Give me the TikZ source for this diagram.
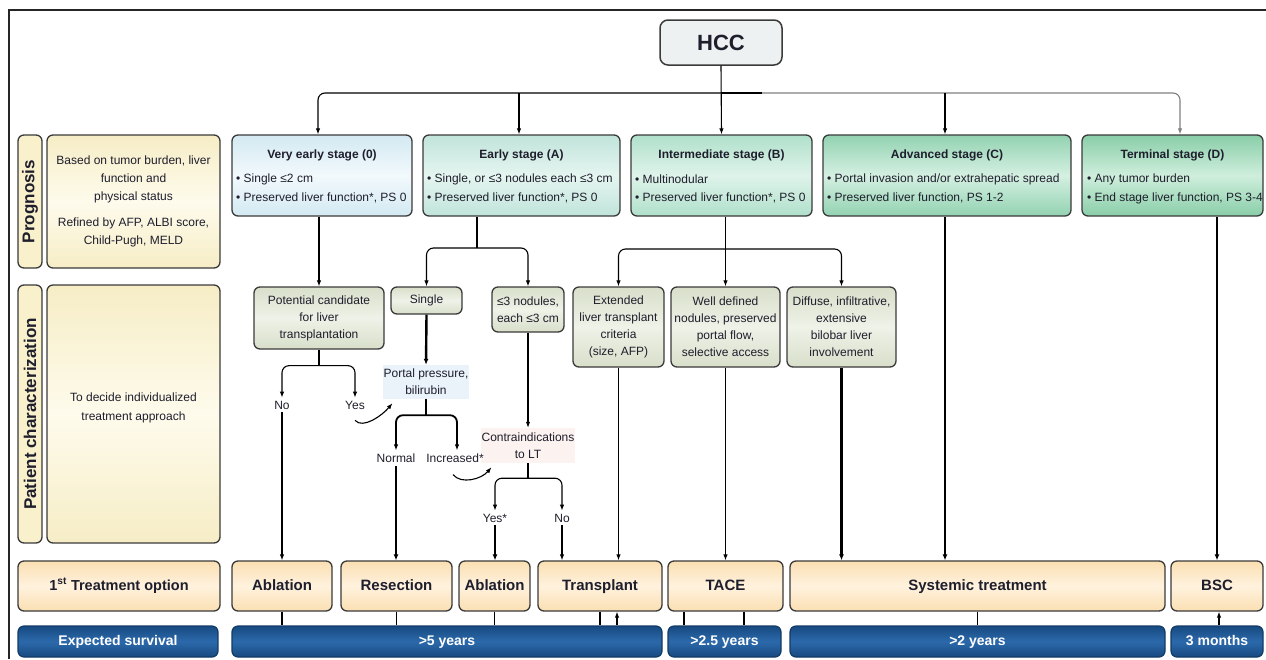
\documentclass[tikz,border=0pt]{standalone}
\usepackage{fontspec}
\setmainfont{Liberation Sans}
\usetikzlibrary{arrows.meta,calc}
\definecolor{ink}{HTML}{1E1E2C}
\definecolor{bord}{HTML}{3A3A3A}
\definecolor{creamE}{HTML}{F6EDC6}
\definecolor{creamC}{HTML}{FEFBEC}
\definecolor{vlabC}{HTML}{F9F1CC}
\definecolor{peachE}{HTML}{FADFB2}
\definecolor{peachC}{HTML}{FFF2DE}
\definecolor{blueE}{HTML}{174A80}
\definecolor{blueC}{HTML}{2C69AB}
\definecolor{grnE}{HTML}{D8DFCA}
\definecolor{grnC}{HTML}{EFF2E8}
\definecolor{hccF}{HTML}{EEF1F1}
\definecolor{ppF}{HTML}{EAF3FA}
\definecolor{ctF}{HTML}{FCF2EF}
\definecolor{s0E}{HTML}{D3E9F2}\definecolor{s0C}{HTML}{F2F9FC}
\definecolor{sAE}{HTML}{C0E4DA}\definecolor{sAC}{HTML}{E5F5F0}
\definecolor{sBE}{HTML}{B0E0CB}\definecolor{sBC}{HTML}{DFF3EA}
\definecolor{sCE}{HTML}{92D2B1}\definecolor{sCC}{HTML}{D5F0E2}
\definecolor{sDE}{HTML}{89CEA8}\definecolor{sDC}{HTML}{CFEEDC}
\begin{document}
\begin{tikzpicture}[x=1pt,y=-1pt,
  every node/.style={text=ink},
  box/.style={draw=bord, line width=1.3pt, rounded corners=6pt, align=center, inner sep=1pt},
  sm/.style={font=\fontsize{12}{17}\selectfont},
  ttl/.style={inner sep=0pt, font=\fontsize{12}{14}\selectfont\bfseries},
  bul/.style={anchor=west, inner sep=0pt, font=\fontsize{12}{14}\selectfont},
  stage/.style={box, minimum height=81pt},
  midbox/.style={box, sm, top color=grnE, bottom color=grnE, middle color=grnC},
  treat/.style={box, minimum height=50pt, text height=11pt, text depth=3pt, top color=peachE, bottom color=peachE, middle color=peachC, font=\fontsize{15}{17}\selectfont\bfseries},
  surv/.style={draw=blueE!80!black, line width=1.2pt, rounded corners=6pt, minimum height=31pt, text height=10pt, text depth=3pt, top color=blueE, bottom color=blueE, middle color=blueC, text=white, font=\fontsize{14}{16}\selectfont\bfseries},
  vlab/.style={box, fill=vlabC, minimum width=24pt},
  info/.style={box, sm, top color=creamE, bottom color=creamE, middle color=creamC, minimum width=173pt, font=\fontsize{12}{18}\selectfont},
  lab/.style={sm, inner sep=3pt},
  ln/.style={draw=black, line width=1.1pt},
  arr/.style={ln, -{Latex[length=6pt,width=4.5pt]}},
  tln/.style={draw=black, line width=2.4pt},
  tarr/.style={tln, -{Latex[length=6pt,width=5pt]}},
  rc/.style={rounded corners=7pt}
]
\useasboundingbox (0,0) rectangle (1266,659);
% frame
\draw[line width=1.8pt, draw=black!85] (8,10) -- (1266,10);
\draw[line width=1.8pt, draw=black!85] (9,10) -- (9,659);

% HCC
\node[box, line width=1.5pt, fill=hccF, rounded corners=8pt, minimum width=122pt, minimum height=45pt, font=\fontsize{22}{24}\selectfont\bfseries] (hcc) at (721,42.5) {HCC};

% left column
\node[vlab, minimum height=133pt] (progL) at (30,201.5) {};
\node[rotate=90, inner sep=0pt, font=\fontsize{17}{19}\selectfont\bfseries] (progLt) at (progL) {Prognosis};
\node[info, minimum height=133pt] (progT) at (133.5,201.5) {Based on tumor burden, liver\\function and\\physical status\\[8pt]Refined by AFP, ALBI score,\\Child-Pugh, MELD};
\node[vlab, minimum height=258pt] (patL) at (30,414) {};
\node[rotate=90, inner sep=0pt, font=\fontsize{17}{19}\selectfont\bfseries] (patLt) at (patL) {Patient characterization};
\node[info, minimum height=258pt] (patT) at (133.5,414) {};
\node[sm, align=center, font=\fontsize{12}{19}\selectfont] (patTt) at (133.5,408) {To decide individualized\\treatment approach};

% stage boxes
\node[stage, top color=s0E, bottom color=s0E, middle color=s0C, minimum width=180pt] (s0) at (322,175.5) {};
\node[ttl] (s0h) at (322,155) {Very early stage (0)};
\node[bul] (s0a) at (236,179) {• Single ≤2 cm};
\node[bul] (s0b) at (236,198) {• Preserved liver function*, PS 0};

\node[stage, top color=sAE, bottom color=sAE, middle color=sAC, minimum width=197pt] (sA) at (521.5,175.5) {};
\node[ttl] (sAh) at (521.5,155) {Early stage (A)};
\node[bul] (sAa) at (427,179) {• Single, or ≤3 nodules each ≤3 cm};
\node[bul] (sAb) at (427,198) {• Preserved liver function*, PS 0};

\node[stage, top color=sBE, bottom color=sBE, middle color=sBC, minimum width=181pt] (sB) at (721.5,175.5) {};
\node[ttl] (sBh) at (721.5,155) {Intermediate stage (B)};
\node[bul] (sBa) at (635,179) {• Multinodular};
\node[bul] (sBb) at (635,198) {• Preserved liver function*, PS 0};

\node[stage, top color=sCE, bottom color=sCE, middle color=sCC, minimum width=248pt] (sC) at (947,175.5) {};
\node[ttl] (sCh) at (947,155) {Advanced stage (C)};
\node[bul] (sCa) at (827,179) {• Portal invasion and/or extrahepatic spread};
\node[bul] (sCb) at (827,198) {• Preserved liver function, PS 1-2};

\node[stage, top color=sDE, bottom color=sDE, middle color=sDC, minimum width=181pt] (sD) at (1172.5,175.5) {};
\node[ttl] (sDh) at (1172.5,155) {Terminal stage (D)};
\node[bul] (sDa) at (1087,179) {• Any tumor burden};
\node[bul] (sDb) at (1087,198) {• End stage liver function, PS 3-4};

% middle boxes
\node[midbox, minimum width=130pt, minimum height=62pt] (cand) at (319,318) {Potential candidate\\for liver\\transplantation};
\node[midbox, minimum width=71pt, minimum height=27pt] (single) at (426.5,300.5) {Single};
\node[midbox, minimum width=72pt, minimum height=45pt] (nod3) at (528,309.5) {≤3 nodules,\\each ≤3 cm};
\node[midbox, minimum width=91pt, minimum height=80pt] (ext) at (618.5,327) {Extended\\liver transplant\\criteria\\(size, AFP)};
\node[midbox, minimum width=109pt, minimum height=80pt] (well) at (725.5,327) {Well defined\\nodules, preserved\\portal flow,\\selective access};
\node[midbox, minimum width=109pt, minimum height=80pt] (diff) at (841.5,327) {Diffuse, infiltrative,\\extensive\\bilobar liver\\involvement};
\node[sm, align=center, fill=ppF, minimum width=86pt, minimum height=34pt, inner sep=1pt] (pp) at (426,382) {Portal pressure,\\bilirubin};
\node[sm, align=center, fill=ctF, minimum width=94pt, minimum height=35pt, inner sep=1pt] (contra) at (528,445.5) {Contraindications\\to LT};

% labels
\node[lab] (noA) at (282,405) {No};
\node[lab] (yesA) at (355,405) {Yes};
\node[lab] (normal) at (396,458) {Normal};
\node[lab] (incr) at (455,458) {Increased*};
\node[lab] (yesB) at (495,518) {Yes*};
\node[lab] (noB) at (562,518) {No};

% treatment row
\node[treat, minimum width=202pt, font=\fontsize{14.5}{17}\selectfont\bfseries] (t0) at (119,586) {1\textsuperscript{st} Treatment option};
\node[treat, minimum width=100pt] (tAbl1) at (282,586) {Ablation};
\node[treat, minimum width=111pt] (tRes) at (396.5,586) {Resection};
\node[treat, minimum width=71pt] (tAbl2) at (494.5,586) {Ablation};
\node[treat, minimum width=124pt] (tTx) at (600,586) {Transplant};
\node[treat, minimum width=115pt] (tTACE) at (725.5,586) {TACE};
\node[treat, minimum width=375pt] (tSys) at (977.5,586) {Systemic treatment};
\node[treat, minimum width=92pt] (tBSC) at (1217,586) {BSC};

% survival row
\node[surv, minimum width=200pt] (e0) at (118,641.5) {Expected survival};
\node[surv, minimum width=430pt] (e5) at (447,641.5) {>5 years};
\node[surv, minimum width=113pt] (e25) at (724.5,641.5) {>2.5 years};
\node[surv, minimum width=375pt] (e2) at (977.5,641.5) {>2 years};
\node[surv, minimum width=92pt] (e3m) at (1217,641.5) {3 months};

% HCC tree
\coordinate (busy) at (0,93);
\draw[arr] (hcc.south) -- (sB.north);
\draw[arr, rc] (hcc.south |- busy) -| ([xshift=-4pt]s0.north);
\draw[arr] ([xshift=-2.5pt]sA.north |- busy) -- ([xshift=-2.5pt]sA.north);
\draw[ln] (hcc.south |- busy) -- ++(41,0) coordinate (gr);
\draw[arr, rc, draw=black!50] (gr) -| ([xshift=7.5pt]sD.north);
\draw[arr] ([xshift=-2pt]sC.north |- busy) -- ([xshift=-2pt]sC.north);

% very early
\draw[arr] (s0.south -| cand.north) -- (cand.north);
\draw[ln] (cand.south) -- ++(0,16) coordinate (cB);
\draw[arr, rc] (cB) -| (noA.north);
\draw[arr, rc] (cB) -| (yesA.north);
\draw[arr] (noA.south) -- (noA.south |- tAbl1.north);
\draw[arr] ($(yesA.south)+(0,8)$) .. controls +(8,9) and +(-10,12) .. ($(pp.south west)+(10,4)$);

% early
\coordinate (bA) at (477,248);
\draw[ln] (sA.south -| bA) -- (bA);
\draw[arr, rc] (bA) -| (single.north);
\draw[arr, rc] (bA) -| (nod3.north);
\draw[tarr] (single.south) -- (pp.north);
\draw[tln] (pp.south) -- ++(0,16) coordinate (pB);
\draw[arr, rc, line width=1.8pt] (pB) -| (normal.north);
\draw[arr, rc, line width=1.8pt] (pB) -| ([xshift=2pt]incr.north);
\draw[tarr] (normal.south) -- (normal.south |- tRes.north);
\draw[arr] ($(incr.south)+(-2,9)$) .. controls +(8,10) and +(-10,12) .. ($(contra.south west)+(11,4)$);
\draw[arr] (nod3.south) -- (contra.north);
\draw[ln] (contra.south) -- ++(0,15) coordinate (kB);
\draw[arr, rc] (kB) -| (yesB.north);
\draw[arr, rc] (kB) -| (noB.north);
\draw[tarr] (yesB.south) -- (yesB.south |- tAbl2.north);
\draw[arr] (noB.south) -- (noB.south |- tTx.north);

% intermediate
\coordinate (bB) at (725.5,249);
\draw[arr] (sB.south -| well.north) -- (well.north);
\draw[arr, rc] (bB) -| (ext.north);
\draw[arr, rc] (bB) -| (diff.north);
\draw[arr] (ext.south) -- (ext.south |- tTx.north);
\draw[arr] (well.south) -- (well.south |- tTACE.north);
\draw[tarr] (diff.south) -- (diff.south |- tSys.north);

% advanced / terminal
\draw[tarr] ([xshift=-2pt]sC.south) -- ([xshift=-2pt]sC.south |- tSys.north);
\draw[tarr] (tBSC.north |- sD.south) -- (tBSC.north);

% treatment to survival
\draw[ln] (tAbl1.south) -- (tAbl1.south |- e5.north);
\draw[ln] (tRes.south) -- (tRes.south |- e5.north);
\draw[ln] (tAbl2.south) -- (tAbl2.south |- e5.north);
\draw[ln] (tTx.south) -- (tTx.south |- e5.north);
\draw[arr] ([xshift=17pt]tTx.south |- e5.north) -- ([xshift=17pt]tTx.south);
\draw[ln] ([xshift=-41.5pt]tTACE.south) -- ([xshift=-41.5pt]tTACE.south |- e25.north);
\draw[ln] ([xshift=18.5pt]tTACE.south) -- ([xshift=18.5pt]tTACE.south |- e25.north);
\draw[ln] (tSys.south) -- (tSys.south |- e2.north);
\draw[arr] ([xshift=2pt]tBSC.south |- e3m.north) -- ([xshift=2pt]tBSC.south);
\end{tikzpicture}
\end{document}
